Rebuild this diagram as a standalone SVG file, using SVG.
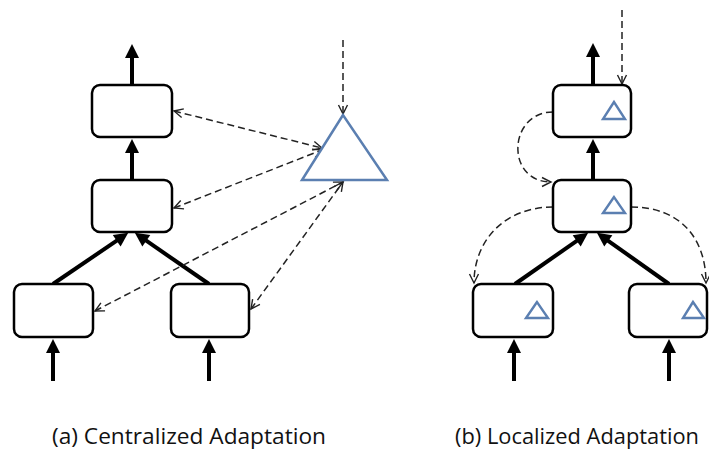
<svg xmlns="http://www.w3.org/2000/svg" width="709" height="452" viewBox="0 0 709 452">
<defs>
<style>
.box{fill:#fff;stroke:#000;stroke-width:2.5}
.thick{stroke:#000;stroke-width:4;fill:none;marker-end:url(#solid)}
.dash{stroke:#222;stroke-width:1.5;fill:none;stroke-dasharray:7 4}
.both{marker-start:url(#open);marker-end:url(#open)}
.end{marker-end:url(#open)}
.tri{fill:#fff;stroke:#5b7fb1;stroke-width:2.5;stroke-linejoin:miter}
.stri{fill:none;stroke:#5b7fb1;stroke-width:2.4}
.lbl{font-family:"Open Sans","Liberation Sans",sans-serif;font-size:22px;fill:#111}
</style>
<marker id="solid" markerUnits="userSpaceOnUse" markerWidth="16" markerHeight="14" viewBox="0 0 14 14" refX="1" refY="7" orient="auto">
<path d="M0,0 L14,7 L0,14 z" fill="#000"/>
</marker>
<marker id="open" markerUnits="userSpaceOnUse" markerWidth="12" markerHeight="12" viewBox="0 0 12 12" refX="10" refY="6" orient="auto-start-reverse">
<path d="M1,1.5 L10,6 L1,10.5" fill="none" stroke="#222" stroke-width="1.4"/>
</marker>
</defs>
<rect width="709" height="452" fill="#fff"/>

<g id="connectors">
<line class="thick" x1="132" y1="85" x2="132" y2="57"/>
<line class="thick" x1="132" y1="180" x2="132" y2="152"/>
<line class="thick" x1="53" y1="284" x2="117.5" y2="240.1"/>
<line class="thick" x1="209" y1="284" x2="145.5" y2="240.2"/>
<line class="thick" x1="53" y1="381" x2="53" y2="352"/>
<line class="thick" x1="209" y1="381" x2="209" y2="352"/>
<line class="dash end" x1="343" y1="40" x2="343" y2="114"/>
<line class="dash both" x1="174" y1="111" x2="322" y2="148"/>
<line class="dash both" x1="174" y1="208" x2="322" y2="150"/>
<line class="dash both" x1="95" y1="311" x2="343" y2="182"/>
<line class="dash both" x1="251" y1="309" x2="343" y2="182"/>
<line class="thick" x1="593" y1="85" x2="593" y2="56"/>
<line class="thick" x1="593" y1="180" x2="593" y2="152"/>
<line class="thick" x1="515" y1="284" x2="577.5" y2="240.3"/>
<line class="thick" x1="669" y1="284" x2="607.5" y2="240.3"/>
<line class="thick" x1="514" y1="381" x2="514" y2="352"/>
<line class="thick" x1="669" y1="381" x2="669" y2="352"/>
<line class="dash end" x1="622" y1="10" x2="622" y2="84"/>
<path class="dash end" d="M553,112 C508,112 505,182 551,182"/>
<path class="dash end" d="M553,207 C505,207 474,240 474,283"/>
<path class="dash end" d="M631,207 C682,207 706,240 706,283"/>
</g>

<g id="a-top"><rect class="box" x="92" y="85" width="80" height="52" rx="8"/></g>
<g id="a-mid"><rect class="box" x="92" y="180" width="80" height="52" rx="8"/></g>
<g id="a-left"><rect class="box" x="14" y="284" width="79" height="53" rx="8"/></g>
<g id="a-right"><rect class="box" x="171" y="284" width="78" height="53" rx="8"/></g>
<g id="a-adapter"><polygon class="tri" points="343,115 302,180 387,180"/></g>

<g id="b-top"><rect class="box" x="553" y="85" width="78" height="52" rx="8"/><polygon class="stri" points="614,102 603,119 625,119"/></g>
<g id="b-mid"><rect class="box" x="553" y="180" width="78" height="52" rx="8"/><polygon class="stri" points="614,197 603,213 625,213"/></g>
<g id="b-left"><rect class="box" x="473" y="284" width="80" height="53" rx="8"/><polygon class="stri" points="537,302 526,318 548,318"/></g>
<g id="b-right"><rect class="box" x="629" y="284" width="78" height="53" rx="8"/><polygon class="stri" points="693,302 683,318 704,318"/></g>

<text class="lbl" x="52" y="444" textLength="274" lengthAdjust="spacingAndGlyphs">(a) Centralized Adaptation</text>
<text class="lbl" x="455" y="444" textLength="244" lengthAdjust="spacingAndGlyphs">(b) Localized Adaptation</text>
</svg>
